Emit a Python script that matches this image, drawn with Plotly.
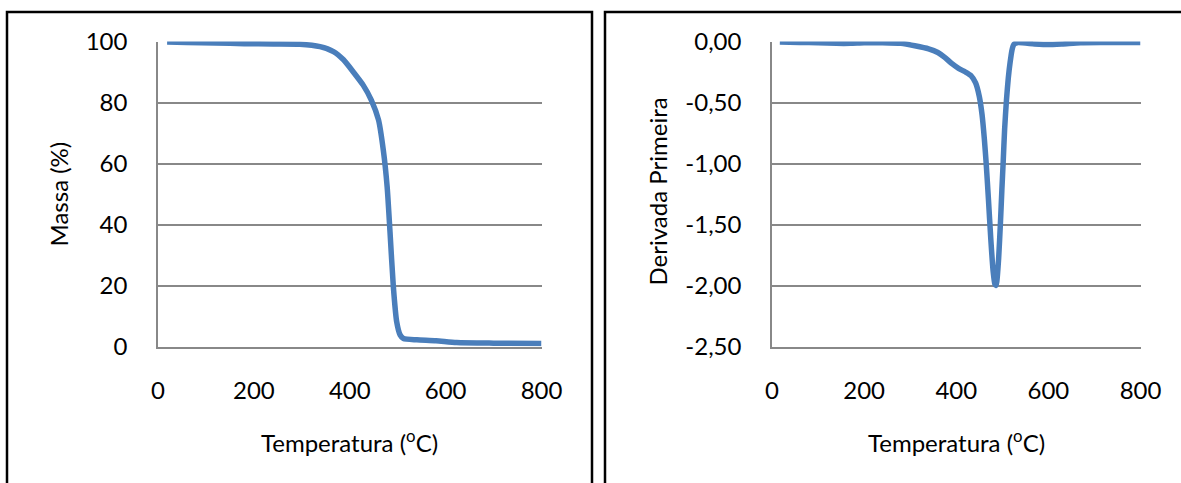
import plotly.graph_objects as go

# Thermogravimetric curve: mass (%) vs temperature (°C)
temp_mass = [19, 60, 120, 180, 240, 296, 338, 366, 387, 407, 428, 445, 460,
             470, 478, 484, 491, 498, 505, 512, 540, 580, 623, 700, 800]
mass_pct = [99.8, 99.7, 99.5, 99.3, 99.2, 99.1, 98.3, 96.7, 94.0, 90.1, 85.7,
            80.8, 74.3, 64.4, 52.4, 37.5, 19.5, 8.0, 3.8, 2.6, 2.2, 1.9, 1.3,
            1.1, 1.0]

# First derivative of the mass curve
temp_deriv = [17, 60, 100, 140, 170, 200, 240, 280, 310, 340, 360, 375, 390,
              405, 420, 432, 442, 450, 456, 461, 465, 470, 475, 480, 484, 486,
              488, 492, 496, 499, 502, 505, 509, 513, 517, 521, 525, 532, 570,
              600, 630, 670, 720, 800]
deriv = [-0.005, -0.008, -0.01, -0.015, -0.015, -0.01, -0.01, -0.015, -0.035,
         -0.06, -0.09, -0.13, -0.18, -0.22, -0.25, -0.28, -0.34, -0.45, -0.6,
         -0.8, -1.0, -1.3, -1.62, -1.88, -1.99, -2.0, -1.97, -1.78, -1.48,
         -1.22, -0.98, -0.72, -0.48, -0.3, -0.17, -0.07, -0.025, -0.01, -0.02,
         -0.025, -0.02, -0.01, -0.008, -0.008]

x_ticks = [0, 200, 400, 600, 800]
mass_ticks = [0, 20, 40, 60, 80, 100]
deriv_ticks = [0, -0.5, -1.0, -1.5, -2.0, -2.5]
# decimal comma, plain hyphen for negatives
deriv_labels = [f"{v:.2f}".replace(".", ",") for v in deriv_ticks]

W, H = 1181, 483
FONT = "Lato"
FS = 24
LINE = "#4a7ebb"
GRID = "#888888"


def px(x):
    return x / W


def py(y):
    return 1 - y / H


fig = go.Figure()
fig.add_trace(go.Scatter(x=temp_mass, y=mass_pct, mode="lines",
                         line=dict(color=LINE, width=5.5, shape="spline", smoothing=0.6),
                         cliponaxis=False, xaxis="x", yaxis="y", showlegend=False))
fig.add_trace(go.Scatter(x=temp_deriv, y=deriv, mode="lines",
                         line=dict(color=LINE, width=5.5, shape="spline", smoothing=0.6),
                         cliponaxis=False, xaxis="x2", yaxis="y2", showlegend=False))

tickfont = dict(family=FONT, size=FS, color="#000")
y_dom = [py(346.5), py(41.5)]
xcommon = dict(range=[0, 800], tickvals=x_ticks, showgrid=False, zeroline=False,
               showline=True, linecolor=GRID, linewidth=1.5, ticks="",
               automargin=False, ticklabelstandoff=22, tickfont=tickfont)
ycommon = dict(showgrid=True, gridcolor=GRID, gridwidth=1.5, zeroline=False,
               showline=True, linecolor=GRID, linewidth=1.5, ticks="",
               automargin=False, ticklabelstandoff=24, tickfont=tickfont)

fig.update_layout(
    width=W, height=H,
    margin=dict(l=0, r=0, t=0, b=0, autoexpand=False),
    paper_bgcolor="white", plot_bgcolor="white",
    xaxis=dict(domain=[px(158), px(541.5)], anchor="y", **xcommon),
    yaxis=dict(domain=y_dom, anchor="x", range=[0, 100], tickvals=mass_ticks, **ycommon),
    xaxis2=dict(domain=[px(772), px(1140.5)], anchor="y2", **xcommon),
    yaxis2=dict(domain=y_dom, anchor="x2", range=[-2.5, 0], tickvals=deriv_ticks,
                ticktext=deriv_labels, **ycommon),
    shapes=[
        dict(type="rect", xref="paper", yref="paper", x0=px(7), x1=px(592),
             y0=-0.1, y1=py(12), line=dict(color="black", width=2.5)),
        dict(type="rect", xref="paper", yref="paper", x0=px(605), x1=1.1,
             y0=-0.1, y1=py(12), line=dict(color="black", width=2.5)),
    ],
    annotations=[
        dict(text="Temperatura (<sup>o</sup>C)", xref="paper", yref="paper",
             x=px(349.5), y=py(441), showarrow=False, xanchor="center", yanchor="middle",
             font=dict(family=FONT, size=FS, color="#000")),
        dict(text="Temperatura (<sup>o</sup>C)", xref="paper", yref="paper",
             x=px(956), y=py(441), showarrow=False, xanchor="center", yanchor="middle",
             font=dict(family=FONT, size=FS, color="#000")),
        dict(text="Massa (%)", xref="paper", yref="paper", textangle=-90,
             x=px(58.5), y=py(194), showarrow=False, xanchor="center", yanchor="middle",
             font=dict(family=FONT, size=FS, color="#000")),
        dict(text="Derivada Primeira", xref="paper", yref="paper", textangle=-90,
             x=px(656.5), y=py(192), showarrow=False, xanchor="center", yanchor="middle",
             font=dict(family=FONT, size=FS, color="#000")),
    ],
)

fig.write_html("out.html")
